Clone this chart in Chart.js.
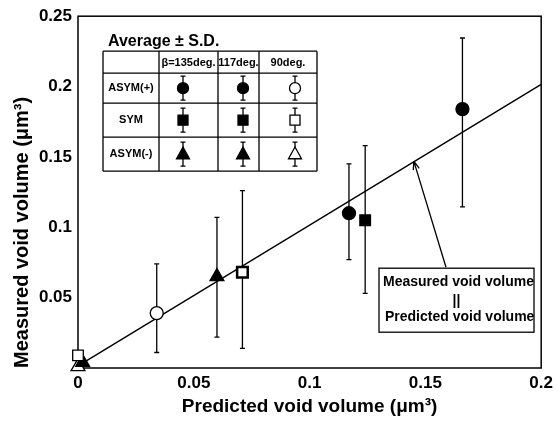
<!DOCTYPE html>
<html>
<head>
<meta charset="utf-8">
<script src="https://cdn.jsdelivr.net/npm/chart.js@4.4.0/dist/chart.umd.min.js"></script>
<style>
html, body { margin: 0; padding: 0; background: #fff; }
#wrap { width: 558px; height: 424px; }
</style>
</head>
<body>
<div id="wrap"><canvas id="voidChart" width="558" height="424"></canvas></div>
<script>
// values (um^3)
const seriesNames = ['ASYM(+) β=135deg.', 'ASYM(+) 117deg.', 'ASYM(+) 90deg.',
                     'SYM β=135deg.', 'SYM 117deg.', 'SYM 90deg.',
                     'ASYM(-) β=135deg.', 'ASYM(-) 117deg.', 'ASYM(-) 90deg.'];
const predicted = [0.166, 0.117, 0.034, 0.124, 0.071, 0.000, 0.060, 0.002, 0.000];
const measured  = [0.184, 0.110, 0.039, 0.105, 0.068, 0.009, 0.065, 0.004, 0.001];
const sdLower   = [0.1145, 0.077, 0.011, 0.053, 0.014, 0.009, 0.022, 0.004, 0.001];
const sdUpper   = [0.2345, 0.145, 0.074, 0.158, 0.126, 0.009, 0.107, 0.004, 0.001];

// measured = predicted line
const fitX = [0.002, 0.2];
const fitY = [0.0035, 0.2015];

const xTicks = [0, 0.05, 0.1, 0.15, 0.2];
const xTickLabels = ['0', '0.05', '0.1', '0.15', '0.2'];
const yTicks = [0, 0.05, 0.1, 0.15, 0.2, 0.25];
const yTickLabels = ['', '0.05', '0.1', '0.15', '0.2', '0.25'];

const tableTitle = 'Average ± S.D.';
const tableCols = ['β=135deg.', '117deg.', '90deg.'];
const tableRows = ['ASYM(+)', 'SYM', 'ASYM(-)'];
const noteLines = ['Measured void volume', '||', 'Predicted void volume'];

const FONT = '"Liberation Sans", Arial, Helvetica, sans-serif';
const rowShapes = ['circle', 'rect', 'triangle'];
const colFill = ['#000', '#000', '#fff'];
const shapeRadius = { circle: 6.5, rect: 7.5, triangle: 8 };

const datasets = seriesNames.map((name, i) => {
    const shape = rowShapes[Math.floor(i / 3)];
    const open = colFill[i % 3] === '#fff' || i === 4;
    return {
        label: name,
        type: 'scatter',
        data: [{ x: predicted[i], y: measured[i] }],
        pointStyle: shape,
        pointRadius: shapeRadius[shape],
        backgroundColor: open ? '#fff' : '#000',
        borderColor: '#000',
        borderWidth: i === 4 ? 2.5 : 1.3,
        clip: false
    };
});
datasets.push({
    label: 'fit',
    type: 'line',
    data: fitX.map((x, i) => ({ x: x, y: fitY[i] })),
    borderColor: '#000',
    borderWidth: 1.4,
    pointRadius: 0,
    fill: false,
    order: 10
});

function marker(ctx, shape, x, y, r, fill) {
    ctx.beginPath();
    if (shape === 'circle') {
        ctx.arc(x, y, r, 0, Math.PI * 2);
    } else if (shape === 'rect') {
        ctx.rect(x - r, y - r, 2 * r, 2 * r);
    } else {
        ctx.moveTo(x, y - r * 1.1);
        ctx.lineTo(x + r, y + r * 0.7);
        ctx.lineTo(x - r, y + r * 0.7);
        ctx.closePath();
    }
    ctx.fillStyle = fill;
    ctx.fill();
    ctx.lineWidth = 1.3;
    ctx.strokeStyle = '#000';
    ctx.stroke();
}

const bgPlugin = {
    id: 'bg',
    beforeDraw(chart) {
        const ctx = chart.ctx;
        ctx.save();
        ctx.fillStyle = '#fff';
        ctx.fillRect(0, 0, chart.width, chart.height);
        ctx.restore();
    }
};

const errorBars = {
    id: 'errorBars',
    beforeDatasetsDraw(chart) {
        const ctx = chart.ctx, xs = chart.scales.x, ys = chart.scales.y;
        const ca = chart.chartArea;
        ctx.save();
        // frame
        ctx.strokeStyle = '#000';
        ctx.lineWidth = 1.5;
        ctx.strokeRect(ca.left, ca.top, ca.right - ca.left, ca.bottom - ca.top);
        ctx.lineWidth = 1.3;
        for (let i = 0; i < predicted.length; i++) {
            if (sdUpper[i] === sdLower[i]) continue;
            const px = xs.getPixelForValue(predicted[i]);
            const t = ys.getPixelForValue(sdUpper[i]);
            const b = ys.getPixelForValue(sdLower[i]);
            ctx.beginPath();
            ctx.moveTo(px, t); ctx.lineTo(px, b);
            ctx.moveTo(px - 2.5, t); ctx.lineTo(px + 2.5, t);
            ctx.moveTo(px - 2.5, b); ctx.lineTo(px + 2.5, b);
            ctx.stroke();
        }
        ctx.restore();
    }
};

const insetPlugin = {
    id: 'inset',
    afterDraw(chart) {
        const ctx = chart.ctx, ca = chart.chartArea;
        const xs = chart.scales.x, ys = chart.scales.y;
        ctx.save();
        ctx.fillStyle = '#000';
        ctx.strokeStyle = '#000';

        // table
        const L = ca.left + 25, T = ca.top + 35;
        const colEdges = [0, 56, 115, 156, 214];
        const rowEdges = [0, 22, 52, 86, 120];
        ctx.font = 'bold 16px ' + FONT;
        ctx.textAlign = 'left';
        ctx.textBaseline = 'alphabetic';
        ctx.fillText(tableTitle, L + 5, T - 5);

        ctx.lineWidth = 1.3;
        ctx.beginPath();
        colEdges.forEach(c => { ctx.moveTo(L + c, T); ctx.lineTo(L + c, T + rowEdges[4]); });
        rowEdges.forEach(r => { ctx.moveTo(L, T + r); ctx.lineTo(L + colEdges[4], T + r); });
        ctx.stroke();

        ctx.font = 'bold 11px ' + FONT;
        ctx.textAlign = 'center';
        ctx.textBaseline = 'middle';
        tableCols.forEach((c, j) => {
            ctx.fillText(c, L + (colEdges[j + 1] + colEdges[j + 2]) / 2, T + rowEdges[1] / 2 + 1);
        });
        const markX = [80, 140, 192];
        const tableR = { circle: 5.5, rect: 5, triangle: 6.5 };
        tableRows.forEach((r, k) => {
            const cy = T + (rowEdges[k + 1] + rowEdges[k + 2]) / 2;
            ctx.fillStyle = '#000';
            ctx.fillText(r, L + colEdges[1] / 2, cy);
            markX.forEach((mx, j) => {
                ctx.beginPath();
                ctx.moveTo(L + mx, cy - 12); ctx.lineTo(L + mx, cy + 12);
                ctx.moveTo(L + mx - 2.5, cy - 12); ctx.lineTo(L + mx + 2.5, cy - 12);
                ctx.moveTo(L + mx - 2.5, cy + 12); ctx.lineTo(L + mx + 2.5, cy + 12);
                ctx.stroke();
                marker(ctx, rowShapes[k], L + mx, cy, tableR[rowShapes[k]], colFill[j]);
            });
        });

        // note box with arrow
        const bx = ca.left + 301, by = ca.top + 252, bw = 155, bh = 64;
        ctx.fillStyle = '#fff';
        ctx.fillRect(bx, by, bw, bh);
        ctx.save();
        ctx.beginPath();
        ctx.rect(bx, by, bw, bh);
        ctx.clip();
        ctx.fillStyle = '#000';
        ctx.font = 'bold 14px ' + FONT;
        ctx.textAlign = 'left';
        ctx.fillText(noteLines[0], bx + 4, by + 14);
        ctx.textAlign = 'center';
        ctx.fillText(noteLines[1], bx + bw / 2, by + 33);
        ctx.textAlign = 'left';
        ctx.fillText(noteLines[2], bx + 6, by + 49);
        ctx.restore();
        ctx.lineWidth = 1.3;
        ctx.strokeRect(bx, by, bw, bh);

        const tx = xs.getPixelForValue(0.145), ty = ys.getPixelForValue(0.147);
        const sx = bx + 67, sy = by - 1;
        ctx.beginPath();
        ctx.moveTo(sx, sy); ctx.lineTo(tx, ty);
        const a = Math.atan2(ty - sy, tx - sx);
        ctx.moveTo(tx, ty); ctx.lineTo(tx - 9 * Math.cos(a - 0.35), ty - 9 * Math.sin(a - 0.35));
        ctx.moveTo(tx, ty); ctx.lineTo(tx - 9 * Math.cos(a + 0.35), ty - 9 * Math.sin(a + 0.35));
        ctx.stroke();
        ctx.restore();
    }
};

new Chart(document.getElementById('voidChart'), {
    type: 'scatter',
    data: { datasets: datasets },
    options: {
        responsive: false,
        animation: false,
        devicePixelRatio: 1,
        layout: { padding: { top: 12, right: 15, left: 0, bottom: 0 } },
        plugins: { legend: { display: false }, tooltip: { enabled: false } },
        scales: {
            x: {
                type: 'linear',
                min: 0, max: 0.2,
                afterBuildTicks: s => { s.ticks = xTicks.map(v => ({ value: v })); },
                afterFit: s => { s.height = 56; },
                grid: { display: false, drawTicks: false },
                border: { display: false },
                ticks: {
                    padding: 5,
                    color: '#000',
                    font: { family: FONT, weight: 'bold', size: 17 },
                    callback: v => xTickLabels[xTicks.indexOf(v)]
                },
                title: {
                    display: true,
                    text: 'Predicted void volume (μm³)',
                    color: '#000',
                    font: { family: FONT, weight: 'bold', size: 19 },
                    padding: { top: 0, bottom: 6 }
                }
            },
            y: {
                type: 'linear',
                min: 0, max: 0.25,
                afterBuildTicks: s => { s.ticks = yTicks.map(v => ({ value: v })); },
                afterFit: s => { s.width = 78; },
                grid: { display: false, drawTicks: false },
                border: { display: false },
                ticks: {
                    padding: 6,
                    color: '#000',
                    font: { family: FONT, weight: 'bold', size: 17 },
                    callback: v => yTickLabels[yTicks.indexOf(v)]
                },
                title: {
                    display: true,
                    text: 'Measured void volume (μm³)',
                    align: 'start',
                    color: '#000',
                    font: { family: FONT, weight: 'bold', size: 20 },
                    padding: { top: 10, bottom: 0 }
                }
            }
        }
    },
    plugins: [bgPlugin, errorBars, insetPlugin]
});
</script>
</body>
</html>
